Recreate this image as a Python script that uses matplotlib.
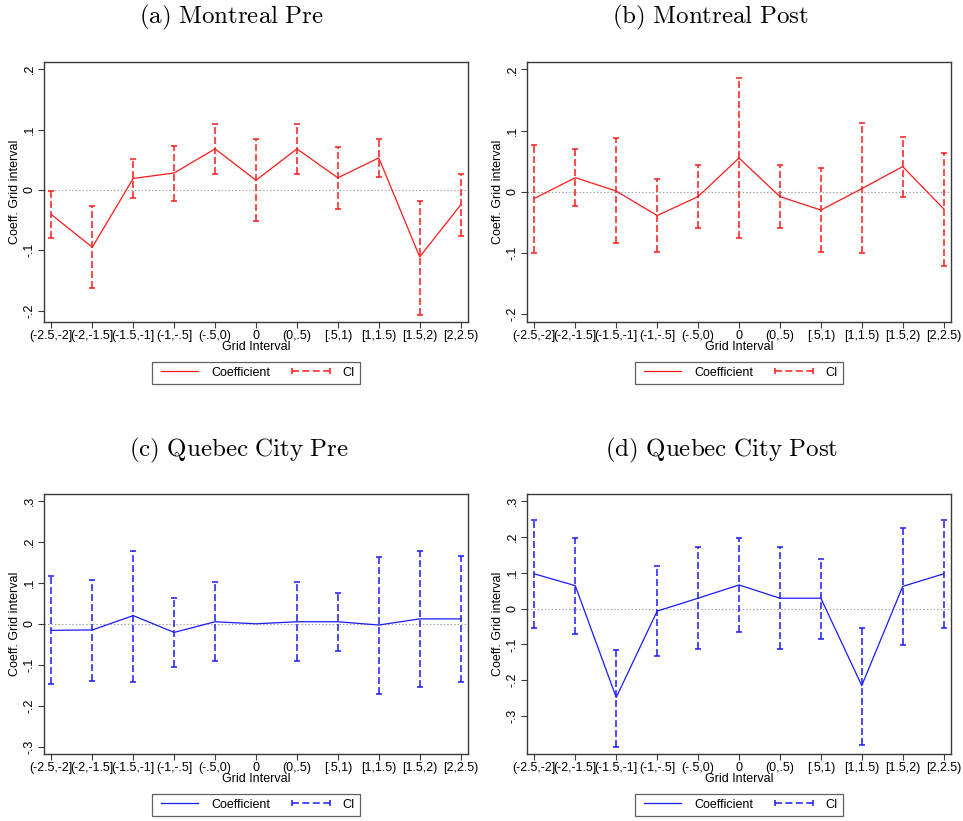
import numpy as np
import matplotlib
matplotlib.use("Agg")
import matplotlib.pyplot as plt
from matplotlib.lines import Line2D

plt.rcParams['font.family'] = ['Liberation Sans', 'DejaVu Sans']
plt.rcParams['mathtext.fontset'] = 'cm'
plt.rcParams['lines.scale_dashes'] = False

# grid interval categories
labels = ['(-2.5,-2]', '(-2,-1.5]', '(-1.5,-1]', '(-1,-.5]', '(-.5,0)', '0',
          '(0,.5)', '[.5,1)', '[1,1.5)', '[1.5,2)', '[2,2.5)']

# (a) Montreal Pre
mtl_pre_coef = [-0.041, -0.095, 0.019, 0.028, 0.068, 0.016, 0.068, 0.020, 0.053, -0.111, -0.025]
mtl_pre_hi = [-0.002, -0.027, 0.052, 0.073, 0.110, 0.084, 0.110, 0.071, 0.084, -0.018, 0.027]
mtl_pre_lo = [-0.080, -0.162, -0.013, -0.018, 0.026, -0.052, 0.026, -0.032, 0.022, -0.207, -0.077]

# (b) Montreal Post
mtl_post_coef = [-0.011, 0.023, 0.001, -0.039, -0.008, 0.055, -0.008, -0.030, 0.005, 0.041, -0.028]
mtl_post_hi = [0.077, 0.070, 0.087, 0.021, 0.043, 0.186, 0.043, 0.038, 0.112, 0.090, 0.063]
mtl_post_lo = [-0.100, -0.024, -0.084, -0.099, -0.060, -0.075, -0.060, -0.099, -0.100, -0.008, -0.122]

# (c) Quebec City Pre (no CI on the "0" category)
qc_pre_coef = [-0.016, -0.015, 0.020, -0.021, 0.005, 0.0, 0.005, 0.005, -0.003, 0.012, 0.012]
qc_pre_hi = [0.116, 0.108, 0.179, 0.064, 0.101, np.nan, 0.101, 0.076, 0.164, 0.178, 0.165]
qc_pre_lo = [-0.147, -0.139, -0.141, -0.105, -0.091, np.nan, -0.091, -0.066, -0.172, -0.155, -0.142]

# (d) Quebec City Post
qc_post_coef = [0.097, 0.064, -0.248, -0.007, 0.029, 0.066, 0.029, 0.029, -0.215, 0.062, 0.097]
qc_post_hi = [0.247, 0.197, -0.115, 0.118, 0.172, 0.197, 0.172, 0.139, -0.053, 0.225, 0.247]
qc_post_lo = [-0.053, -0.071, -0.386, -0.133, -0.114, -0.066, -0.114, -0.084, -0.381, -0.102, -0.053]

RED = '#ff1a1a'
BLUE = '#1a1aff'
FRAME = '#3a3a3a'

panels = [
    ('(a)\\ Montreal\\ Pre', mtl_pre_coef, mtl_pre_lo, mtl_pre_hi, RED,
     [44, 62], (-0.219, 0.212), [-0.2, -0.1, 0, 0.1, 0.2], 231),
    ('(b)\\ Montreal\\ Post', mtl_post_coef, mtl_post_lo, mtl_post_hi, RED,
     [527, 62], (-0.213, 0.212), [-0.2, -0.1, 0, 0.1, 0.2], 710),
    ('(c)\\ Quebec\\ City\\ Pre', qc_pre_coef, qc_pre_lo, qc_pre_hi, BLUE,
     [44, 494], (-0.318, 0.317), [-0.3, -0.2, -0.1, 0, 0.1, 0.2, 0.3], 239),
    ('(d)\\ Quebec\\ City\\ Post', qc_post_coef, qc_post_lo, qc_post_hi, BLUE,
     [527, 494], (-0.406, 0.320), [-0.3, -0.2, -0.1, 0, 0.1, 0.2, 0.3], 722),
]


def fmt_tick(v):
    if abs(v) < 1e-9:
        return '0'
    s = '%.1f' % v
    return s.replace('0.', '.')


W, H = 963, 821
fig = plt.figure(figsize=(W / 100, H / 100), dpi=100)
aw, ah = 424, 260
FS = 9

for title, coef, lo, hi, col, (px, py), ylim, yticks, tx in panels:
    ax = fig.add_axes([px / W, 1 - (py + ah) / H, aw / W, ah / H])
    x = np.arange(1, len(labels) + 1)
    coef = np.array(coef)
    lo = np.array(lo)
    hi = np.array(hi)

    ax.axhline(0, color='#a0a0a0', lw=0.8, ls=(0, (1, 1.5)), zorder=1)
    ax.vlines(x, lo, hi, colors=col, linestyles=(0, (5, 2.2)), lw=1.1, zorder=2)
    ax.plot(x, lo, ls='none', marker='_', ms=5, mew=1.1, color=col, zorder=2)
    ax.plot(x, hi, ls='none', marker='_', ms=5, mew=1.1, color=col, zorder=2)
    ax.plot(x, coef, color=col, lw=0.9, zorder=3)

    ax.set_xlim(0.82, 11.18)
    ax.set_ylim(*ylim)
    ax.set_xticks(x)
    ax.set_xticklabels(labels, fontsize=FS)
    ax.set_yticks(yticks)
    ax.set_yticklabels([fmt_tick(v) for v in yticks], fontsize=FS,
                       rotation=90, va='center')
    ax.tick_params(axis='both', direction='out', length=4, width=0.8,
                   color=FRAME, pad=2)
    for sp in ax.spines.values():
        sp.set_color(FRAME)
        sp.set_linewidth(1.0)
    ax.set_xlabel('Grid Interval', fontsize=FS, labelpad=-1)
    ax.set_ylabel('Coeff. Grid interval', fontsize=FS, labelpad=2)

    h1 = Line2D([], [], color=col, lw=0.9)
    h2 = Line2D([], [], color=col, lw=1.1, ls=(0, (5, 2.5)),
                marker='|', ms=5, mew=1.1)
    leg = ax.legend([h1, h2], ['Coefficient', 'CI'], loc='upper center',
                    bbox_to_anchor=(0.5, -0.152), ncol=2, fontsize=FS,
                    frameon=True, fancybox=False, edgecolor=FRAME,
                    handlelength=3.6, handletextpad=0.7, columnspacing=1.5,
                    numpoints=2, borderpad=0.4, borderaxespad=0)
    leg.get_frame().set_linewidth(0.9)

    fig.text(tx / W, 1 - (17 if py < 200 else 450) / H, '$\\mathrm{' + title + '}$',
             ha='center', va='center', fontsize=18)

fig.savefig('out.png', dpi=100, facecolor='white')
